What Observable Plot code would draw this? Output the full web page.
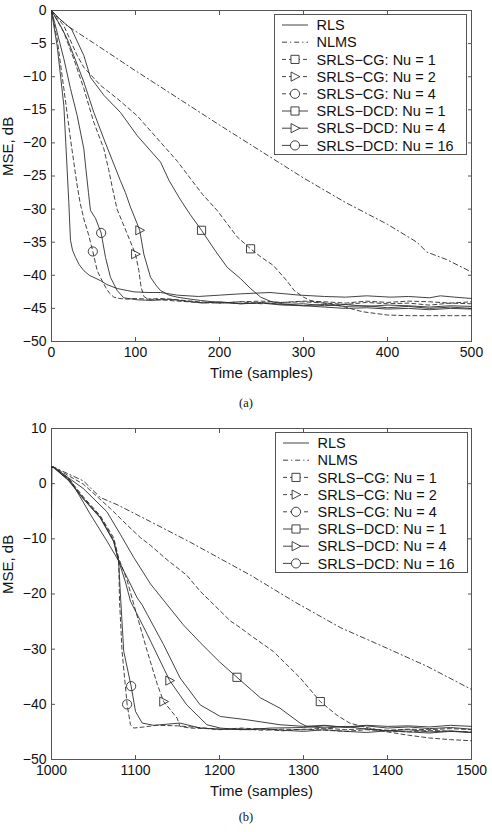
<!DOCTYPE html>
<html>
<head>
<meta charset="utf-8">
<script src="https://cdn.jsdelivr.net/npm/d3@7"></script>
<script src="https://cdn.jsdelivr.net/npm/@observablehq/plot@0.6"></script>
<style>
  body { margin: 0; background: #fff; }
  #page { position: relative; width: 492px; height: 832px; overflow: hidden;
          font-family: "Liberation Sans", Arial, sans-serif; color: #111; }
  .panel { position: absolute; left: 0; }
  .caption { position: absolute; left: 0; width: 492px; text-align: center;
             font-family: "Liberation Serif", "Times New Roman", serif; font-size: 12.5px; color: #111; }
  .legend { position: absolute; }
</style>
</head>
<body>
<div id="page"></div>
<script>
// Series names, in legend order
const seriesNames = ["RLS", "NLMS", "SRLS−CG: Nu = 1", "SRLS−CG: Nu = 2", "SRLS−CG: Nu = 4",
                     "SRLS−DCD: Nu = 1", "SRLS−DCD: Nu = 4", "SRLS−DCD: Nu = 16"];

// ---------- (a) initial convergence ----------
const aTicksX = [0, 100, 200, 300, 400, 500];
const aTicksY = [-50, -45, -40, -35, -30, -25, -20, -15, -10, -5, 0];

const aRlsT = [0, 3, 6.7, 10, 14.7, 17, 20.6, 22.6, 25, 28.6, 33, 38.5, 45, 58.3, 66, 78.2, 90, 98, 115, 130, 150, 175, 200, 225, 260, 296, 325, 350, 375, 404, 425, 450, 463, 480, 500];
const aRlsY = [0, -2.5, -5.3, -9, -14.4, -20, -29, -34.7, -36.2, -37.3, -38.4, -39.3, -40, -40.8, -41.4, -42.0, -42.3, -42.5, -42.6, -42.6, -43.0, -43.2, -43.0, -42.8, -42.6, -43.0, -43.2, -43.3, -43.1, -43.3, -43.2, -43.4, -43.1, -43.3, -43.5];

const aNlmsT = [0, 10, 18.7, 50, 100, 150, 200, 250, 300, 350, 400, 435, 447, 470, 500];
const aNlmsY = [0, -1.3, -2.3, -4.9, -9.1, -13.2, -17.3, -21.3, -25.3, -29.0, -32.3, -35.0, -36.5, -37.6, -39.5];

const aCg1T = [0, 14.7, 30.6, 38.5, 58.3, 78.2, 102, 129.8, 150, 165.5, 180, 197.2, 221, 237, 250, 264, 280, 289, 300, 308, 325, 344, 370, 400, 425, 450, 475, 500];
const aCg1Y = [0, -2.3, -6.8, -8.6, -11.3, -13.3, -15.9, -19.9, -22.8, -25.4, -27.8, -30.2, -34.2, -36, -37.3, -38.5, -40.8, -42.3, -43.3, -43.8, -44.2, -44.6, -45.5, -46.0, -46.1, -46.1, -46.1, -46.1];

const aCg2T = [0, 14.7, 26.5, 38.5, 50.4, 62.3, 68, 72, 78, 90, 100, 104, 106.7, 110, 115, 130, 150, 175, 200, 225, 250, 275, 300, 325, 350, 375, 400, 425, 450, 475, 500];
const aCg2Y = [0, -3.3, -7.3, -11.8, -16.9, -20.9, -24, -26.5, -30, -33.7, -36.8, -39.3, -41.8, -43.2, -43.6, -43.7, -43.9, -44.1, -44.2, -44.0, -43.9, -44.1, -43.9, -44.0, -44.2, -43.9, -44.1, -43.9, -44.0, -44.2, -44.0];

const aCg4T = [0, 6.7, 14.7, 22.6, 30, 34, 38.5, 44, 49.2, 54.4, 59, 64.3, 69, 74.2, 80, 90, 100, 115, 130, 150, 175, 200, 225, 250, 275, 300, 325, 350, 375, 400, 425, 450, 475, 500];
const aCg4Y = [0, -4.3, -11.8, -19.4, -26, -29, -31.5, -33.8, -36.4, -39.3, -40.5, -41.8, -42.7, -43.3, -43.5, -43.6, -43.5, -43.6, -43.5, -43.7, -44.0, -44.2, -44.0, -44.3, -44.1, -44.0, -44.2, -44.4, -44.1, -44.3, -44.2, -44.5, -44.2, -44.3];

const aDcd1T = [0, 10, 23.8, 38.5, 46.4, 62.3, 82.1, 102, 129.8, 140, 153.6, 165, 178.6, 195, 209.2, 225, 237, 249, 260, 275, 300, 325, 350, 375, 400, 425, 450, 475, 500];
const aDcd1Y = [0, -1.3, -2.8, -6.8, -10.1, -12.8, -15.4, -18.9, -22.9, -25.7, -28.6, -30.8, -33.2, -36.3, -38.8, -40.5, -42.0, -43.3, -43.9, -44.3, -44.6, -44.8, -45.0, -44.9, -45.1, -45.0, -45.2, -45.0, -45.1];

const aDcd4T = [0, 10.7, 18.7, 26.5, 38.5, 50.4, 62.3, 72, 82, 88, 94, 102, 105, 109.9, 117.9, 125, 129.8, 140, 149.6, 165, 177.4, 200, 225, 250, 275, 300, 325, 350, 375, 400, 425, 450, 475, 500];
const aDcd4Y = [0, -2.3, -4.3, -6.8, -10.8, -15.4, -19.4, -22.5, -25.7, -27.5, -29.7, -32.2, -33.2, -36.8, -40.3, -41.6, -42.3, -43.0, -43.3, -43.6, -43.8, -44.1, -44.3, -44.2, -44.5, -44.6, -44.4, -44.7, -44.6, -44.9, -44.7, -45.0, -44.8, -45.0];

const aDcd16T = [0, 6.7, 14.7, 22.6, 30.6, 38.5, 41, 44, 46.4, 52.4, 59.1, 64.3, 70.2, 78.2, 86, 102, 120, 140, 160, 180, 200, 225, 250, 275, 300, 325, 350, 375, 400, 425, 450, 475, 500];
const aDcd16Y = [0, -3.3, -7.3, -11.8, -15.9, -20.9, -24, -27.5, -30.2, -31.4, -33.6, -37.3, -40.3, -42.3, -43.4, -43.7, -43.8, -43.6, -43.9, -44.2, -44.0, -44.3, -44.1, -44.4, -44.3, -44.6, -44.4, -44.7, -44.5, -44.6, -44.8, -44.6, -44.7];

// marker positions (CG Nu=1,2,4 then DCD Nu=1,4,16)
const aMarkT = [237, 100, 49.2, 178.6, 105, 59.1];
const aMarkY = [-36, -36.8, -36.4, -33.2, -33.2, -33.6];

// ---------- (b) tracking after the change at 1000 ----------
const bTicksX = [1000, 1100, 1200, 1300, 1400, 1500];
const bTicksY = [-50, -40, -30, -20, -10, 0, 10];

const bRlsT = [1000, 1000.5, 1002.7, 1022.6, 1046, 1066, 1080, 1090, 1102, 1108, 1114, 1133.5, 1153, 1177, 1201, 1232.7, 1272, 1300, 1325, 1350, 1375, 1400, 1425, 1450, 1475, 1500];
const bRlsY = [-6.4, 3, 3.0, 0.6, -5.5, -10.4, -14, -17, -20.7, -22, -23.7, -29.2, -35.2, -40.1, -42.2, -42.8, -43.7, -44.0, -43.8, -44.2, -43.9, -44.3, -44.1, -44.4, -44.2, -44.5];

const bNlmsT = [1000, 1002.7, 1038, 1058, 1078, 1118, 1165, 1237, 1288, 1344, 1399, 1447, 1500];
const bNlmsY = [3, 3.0, 0.5, -2.5, -3.8, -6.9, -10.6, -16.6, -21.3, -26.1, -29.8, -33.1, -37.3];

const bCg1T = [1000, 1002.7, 1038, 1070, 1090, 1106, 1118, 1137.6, 1161, 1177, 1189, 1213, 1224.7, 1237, 1264, 1296, 1320, 1340, 1355, 1375, 1400, 1425, 1450, 1475, 1500];
const bCg1Y = [3, 3.0, -0.1, -4.5, -7.5, -9.8, -11.2, -13.8, -16.6, -19.5, -21.3, -24.9, -26.1, -27.5, -30.4, -35.2, -39.5, -42, -43.4, -44.2, -45.0, -45.6, -46.1, -46.4, -46.6];

const bCg2T = [1000, 1002.7, 1020, 1038, 1058, 1074, 1080, 1090, 1098, 1114, 1126, 1133.5, 1149.5, 1153, 1165, 1185, 1200, 1225, 1250, 1275, 1300, 1325, 1350, 1375, 1400, 1425, 1450, 1475, 1500];
const bCg2Y = [3, 2.9, 1.0, -2.4, -5.8, -9.8, -13.5, -17.5, -21.9, -30.4, -36.4, -39.5, -42.5, -44.0, -44.3, -44.4, -44.6, -44.3, -44.5, -44.8, -44.5, -44.7, -44.9, -44.6, -44.8, -45.0, -44.7, -44.9, -45.0];

const bCg4T = [1000, 1002.7, 1020, 1038, 1058, 1074, 1080, 1081, 1084, 1090, 1094, 1098, 1110, 1125, 1150, 1175, 1200, 1225, 1250, 1275, 1300, 1325, 1350, 1375, 1400, 1425, 1450, 1475, 1500];
const bCg4Y = [3, 2.9, 0.8, -2.6, -6.0, -10.2, -13.8, -21.3, -30.4, -40, -43.7, -44.3, -44.1, -43.8, -43.9, -44.2, -44.5, -44.4, -44.7, -44.5, -44.6, -44.3, -44.6, -44.4, -44.7, -44.5, -44.6, -44.4, -44.6];

const bDcd1T = [1000, 1002.7, 1038, 1066, 1082, 1098, 1118, 1138, 1157, 1177, 1200, 1220.8, 1248.5, 1272, 1296, 1304, 1325, 1350, 1375, 1400, 1425, 1450, 1475, 1500];
const bDcd1Y = [3, 3.0, -0.9, -5.1, -9.2, -13.4, -18.2, -22, -25.6, -28.8, -32.3, -35.1, -38.8, -40.7, -43.4, -44.0, -44.3, -44.0, -44.5, -44.8, -44.6, -45.0, -44.8, -45.1];

const bDcd4T = [1000, 1002.7, 1020, 1038, 1058, 1074, 1080, 1088, 1094, 1114, 1140.7, 1161, 1185, 1201, 1225, 1250, 1275, 1300, 1325, 1350, 1375, 1400, 1425, 1450, 1475, 1500];
const bDcd4Y = [3, 2.9, 0.7, -2.7, -6.1, -10.4, -14, -17.8, -21.3, -27.3, -35.7, -40.1, -43.7, -44.3, -44.6, -44.4, -44.7, -44.9, -44.6, -44.9, -45.1, -44.8, -45.0, -45.2, -44.9, -45.1];

const bDcd16T = [1000, 1002.7, 1020, 1038, 1058, 1074, 1080, 1082, 1086, 1094.8, 1100, 1108, 1121.6, 1137.6, 1153, 1177, 1200, 1237, 1260, 1300, 1325, 1350, 1375, 1400, 1425, 1450, 1475, 1500];
const bDcd16Y = [3, 2.9, 0.6, -2.8, -6.2, -10.5, -14.2, -20, -30.4, -36.7, -41.3, -43.4, -43.8, -43.6, -43.4, -44.3, -44.5, -44.6, -44.3, -44.2, -43.9, -44.1, -43.8, -44.0, -43.9, -44.1, -43.8, -44.0];

const bMarkT = [1320, 1133.5, 1090, 1220.8, 1140.7, 1094.8];
const bMarkY = [-39.5, -39.5, -40, -35.1, -35.7, -36.7];

// ---------- styling ----------
const ink = "#2e2e2e";
const dashNlms = "5,3,1.2,3";
const dashCg = "4,3";

// hollow right-pointing triangle for Plot.dot
const triangleRight = {
  draw(ctx, size) {
    const r = Math.sqrt(size / Math.PI);
    ctx.moveTo(r * 1.05, 0);
    ctx.lineTo(-r * 0.85, -r);
    ctx.lineTo(-r * 0.85, r);
    ctx.closePath();
  }
};
// style per series: [dash, symbol]
const seriesStyle = [
  [null, null], [dashNlms, null],
  [dashCg, "square"], [dashCg, triangleRight], [dashCg, "circle"],
  [null, "square"], [null, triangleRight], [null, "circle"]
];

function rows(t, y) { return t.map((v, i) => ({t: v, mse: y[i]})); }

function panel({top, curves, markT, markY, xDomain, yDomain, ticksX, ticksY}) {
  const marks = [
    Plot.frame({stroke: "#555", strokeWidth: 1}),
    Plot.axisX(ticksX, {anchor: "bottom", tickSize: -4, tickPadding: 10, label: null, fontSize: 14,
      tickFormat: d => String(d), stroke: "#555"}),
    Plot.axisX(ticksX, {anchor: "top", tickSize: -4, tickFormat: () => "", label: null, stroke: "#555"}),
    Plot.axisY(ticksY, {anchor: "left", tickSize: -4, tickPadding: 9, label: null, fontSize: 14, stroke: "#555"}),
    Plot.axisY(ticksY, {anchor: "right", tickSize: -4, tickFormat: () => "", label: null, stroke: "#555"}),
    Plot.text(["Time (samples)"], {text: d => d, frameAnchor: "bottom", dy: 26, lineAnchor: "top", fontSize: 15, fill: "#111"}),
    Plot.text(["MSE, dB"], {text: d => d, frameAnchor: "left", dx: -49, rotate: -90, lineAnchor: "top", fontSize: 15, fill: "#111"})
  ];
  curves.forEach(([t, y], k) => {
    const [dash] = seriesStyle[k];
    marks.push(Plot.line(rows(t, y), {x: "t", y: "mse", stroke: ink, strokeWidth: 0.9,
      strokeDasharray: dash ?? undefined}));
  });
  markT.forEach((t, j) => {
    const sym = seriesStyle[j + 2][1];
    marks.push(Plot.dot([{t, mse: markY[j]}], {x: "t", y: "mse", symbol: sym, r: 4.6,
      stroke: ink, strokeWidth: 0.9, fill: "none"}));
  });
  const svg = Plot.plot({
    width: 492, height: 385,
    marginTop: 10, marginRight: 21, marginBottom: 44, marginLeft: 51,
    style: {fontFamily: "'Liberation Sans', Arial, sans-serif", background: "white", color: "#111", overflow: "visible"},
    x: {domain: xDomain},
    y: {domain: yDomain},
    marks
  });
  const div = document.createElement("div");
  div.className = "panel";
  div.style.top = top + "px";
  div.appendChild(svg);
  document.getElementById("page").appendChild(div);
}

function legend(left, top) {
  const w = 193, h = 141, rowH = 17.2, y0 = 11;
  const svg = d3.select("#page").append("div").attr("class", "legend")
    .style("left", left + "px").style("top", top + "px")
    .append("svg").attr("width", w).attr("height", h);
  svg.append("rect").attr("x", 0.5).attr("y", 0.5).attr("width", w - 1).attr("height", h - 1)
    .attr("fill", "white").attr("stroke", "#555");
  seriesNames.forEach((name, k) => {
    const [dash, sym] = seriesStyle[k];
    const y = y0 + k * rowH;
    const g = svg.append("g").attr("transform", `translate(0,${y})`);
    g.append("line").attr("x1", 8).attr("x2", 34).attr("y1", 0).attr("y2", 0)
      .attr("stroke", ink).attr("stroke-width", 0.9).attr("stroke-dasharray", dash);
    if (sym) {
      const type = sym === "square" ? d3.symbolSquare : sym === "circle" ? d3.symbolCircle : triangleRight;
      g.append("path").attr("transform", "translate(21,0)")
        .attr("d", d3.symbol(type, 4.6 * 4.6 * Math.PI)())
        .attr("fill", "white").attr("stroke", ink).attr("stroke-width", 0.9);
    }
    g.append("text").attr("x", 42.5).attr("y", 0).attr("dy", "0.36em")
      .attr("font-size", 14.5).attr("fill", "#111")
      .attr("font-family", "'Liberation Sans', Arial, sans-serif").text(name);
  });
}

panel({
  top: 0,
  curves: [[aRlsT, aRlsY], [aNlmsT, aNlmsY], [aCg1T, aCg1Y], [aCg2T, aCg2Y], [aCg4T, aCg4Y],
           [aDcd1T, aDcd1Y], [aDcd4T, aDcd4Y], [aDcd16T, aDcd16Y]],
  markT: aMarkT, markY: aMarkY,
  xDomain: [0, 500], yDomain: [-50, 0], ticksX: aTicksX, ticksY: aTicksY
});
legend(274, 14);

panel({
  top: 418,
  curves: [[bRlsT, bRlsY], [bNlmsT, bNlmsY], [bCg1T, bCg1Y], [bCg2T, bCg2Y], [bCg4T, bCg4Y],
           [bDcd1T, bDcd1Y], [bDcd4T, bDcd4Y], [bDcd16T, bDcd16Y]],
  markT: bMarkT, markY: bMarkY,
  xDomain: [1000, 1500], yDomain: [-50, 10], ticksX: bTicksX, ticksY: bTicksY
});
legend(275, 432);

const page = document.getElementById("page");
[["(a)", 396], ["(b)", 810]].forEach(([txt, y]) => {
  const c = document.createElement("div");
  c.className = "caption";
  c.style.top = y + "px";
  c.textContent = txt;
  page.appendChild(c);
});
</script>
</body>
</html>
